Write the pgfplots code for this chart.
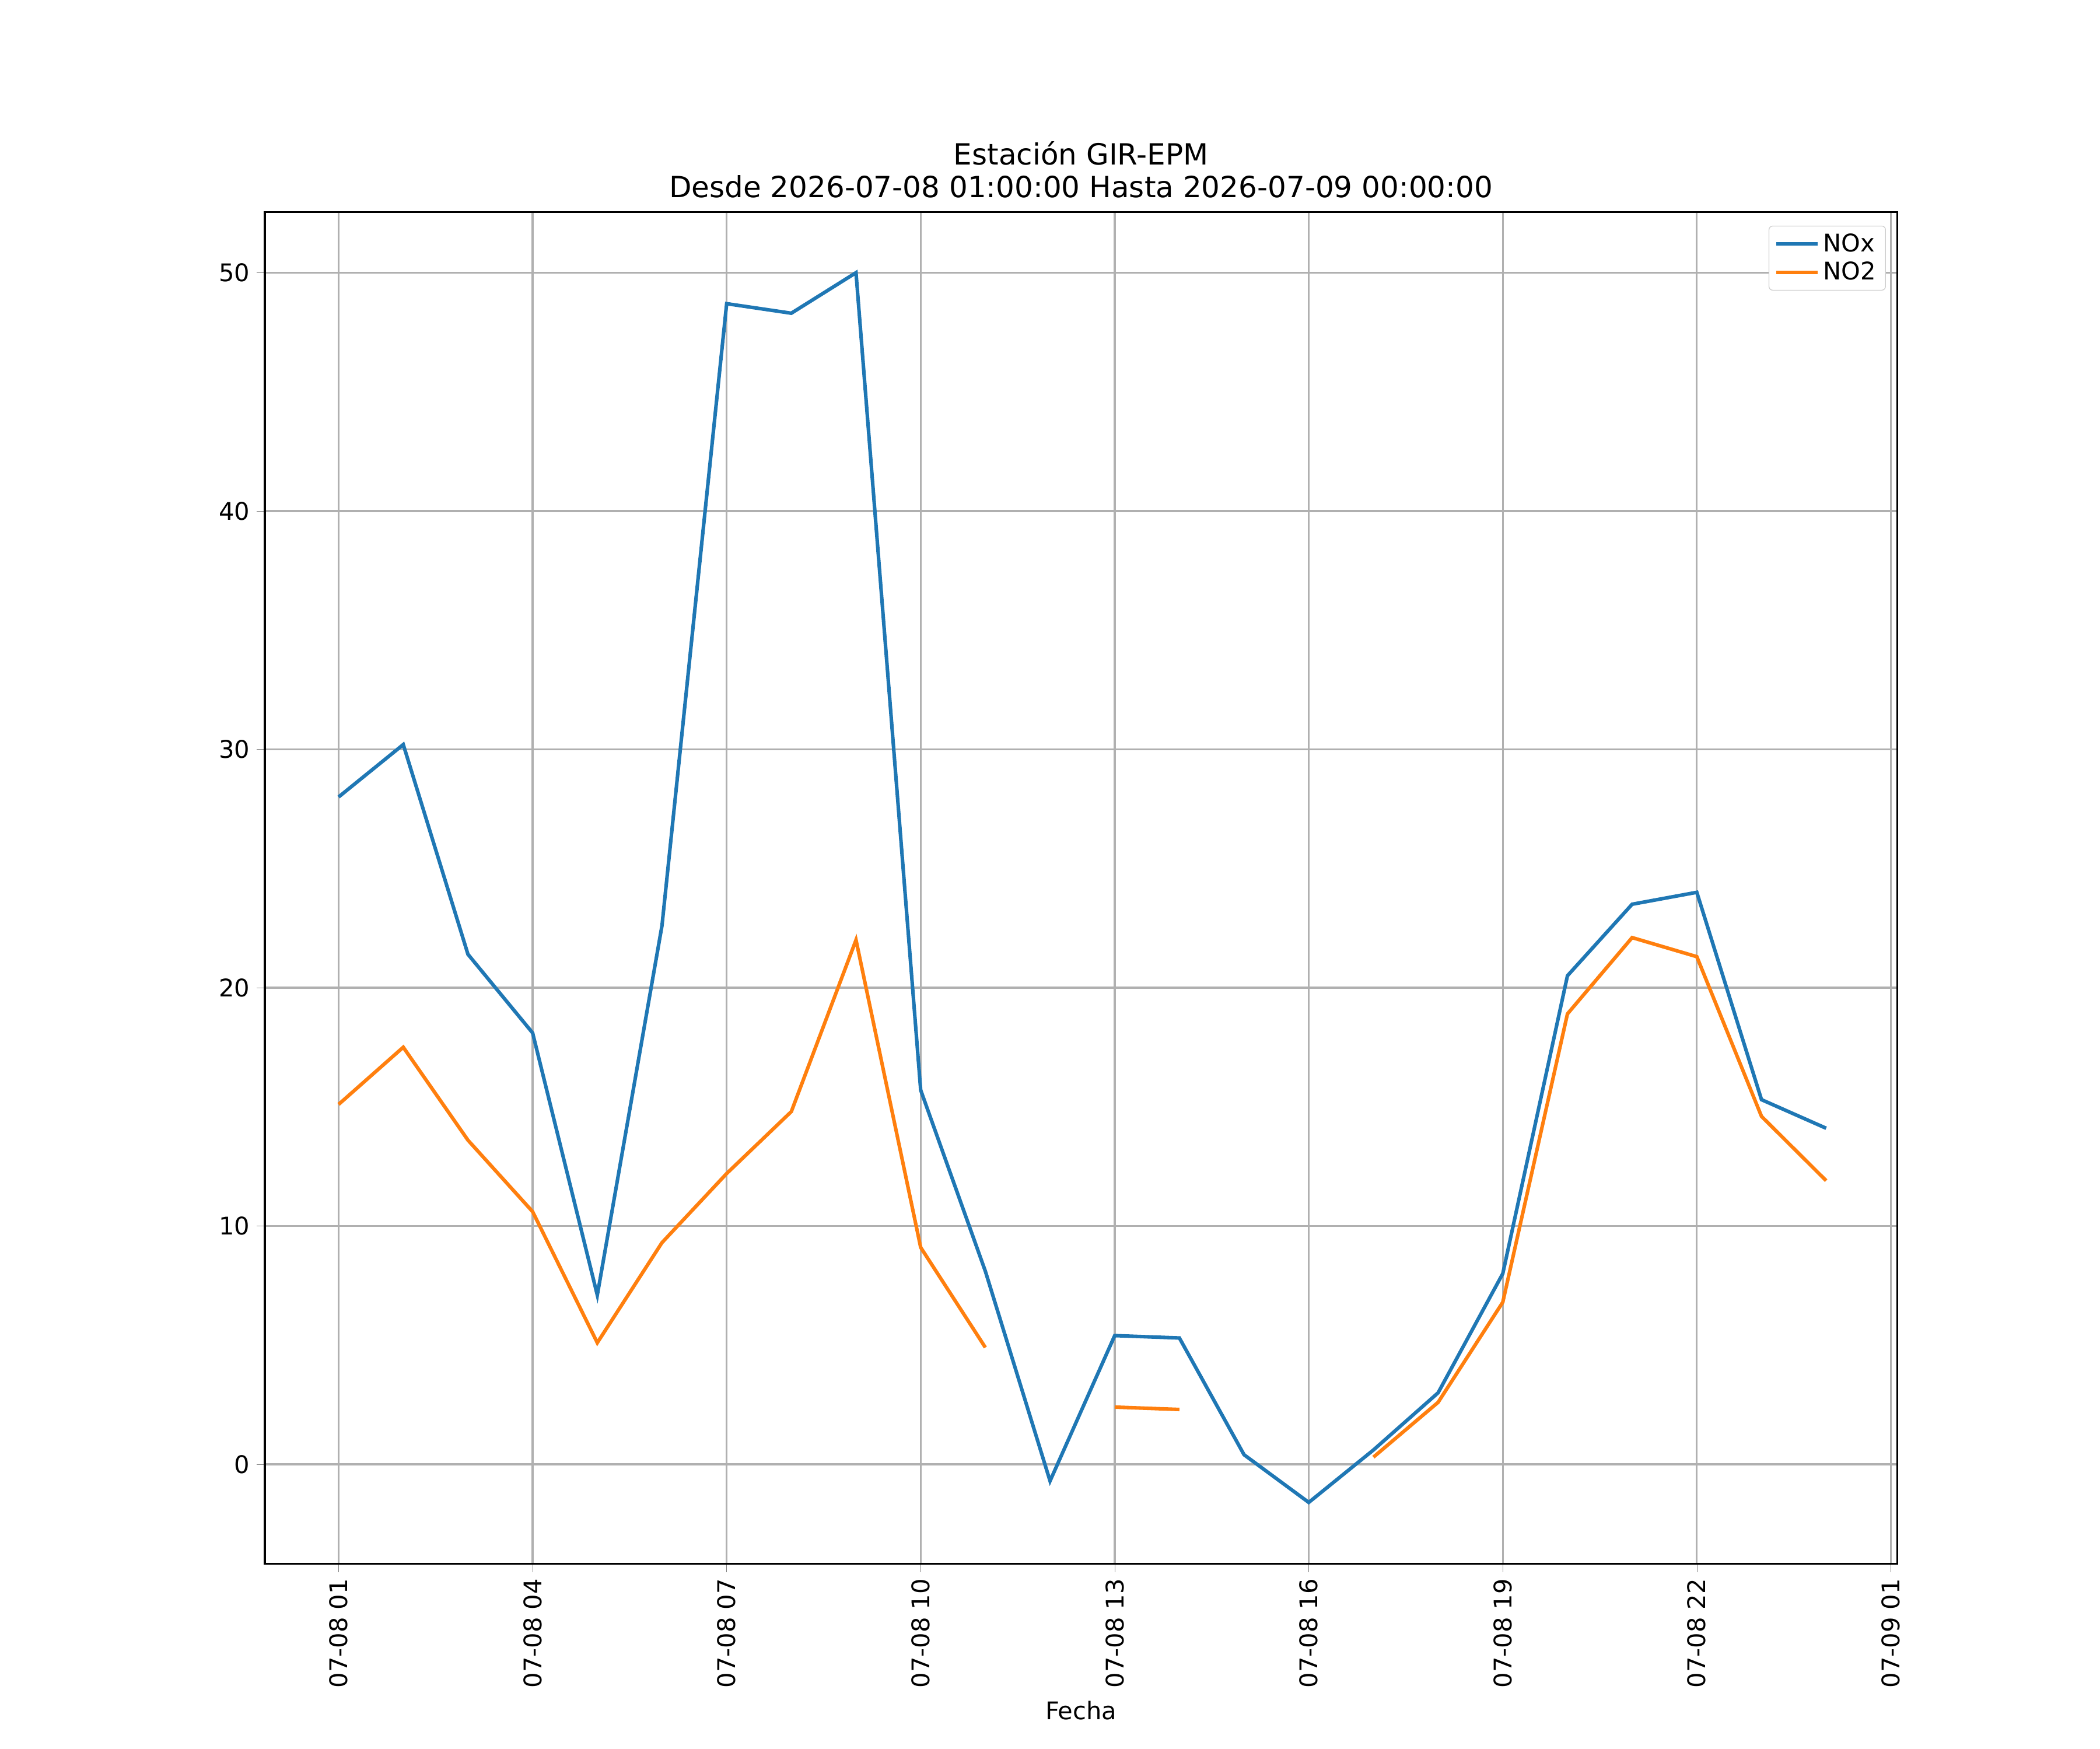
\documentclass[border=0pt]{standalone}
\usepackage{pgfplots}
\pgfplotsset{compat=1.18}
\usepackage{fontspec}
\setmainfont{DejaVu Sans}
\definecolor{c0}{HTML}{1F77B4}
\definecolor{c1}{HTML}{FF7F0E}
\begin{document}
\begin{tikzpicture}
\begin{axis}[
  scale only axis, width=12.08in, height=10.0in,
  xmin=-0.14, xmax=25.1, ymin=-4.17, ymax=52.54,
  xtick={1,4,7,10,13,16,19,22,25},
  xticklabels={07-08 01,07-08 04,07-08 07,07-08 10,07-08 13,07-08 16,07-08 19,07-08 22,07-09 01},
  xticklabel style={rotate=90,anchor=east},
  ytick={0,10,20,30,40,50},
  /pgf/number format/assume math mode=true,
  tick align=outside, tick pos=left, major tick length=4.5pt,
  grid=major, grid style={color=black!31, line width=1pt},
  axis line style={line width=1pt},
  font=\fontsize{13pt}{15pt}\selectfont,
  title={Estación GIR-EPM\\Desde 2026-07-08 01:00:00 Hasta 2026-07-09 00:00:00},
  title style={align=center, font=\fontsize{15.6pt}{17.5pt}\selectfont, yshift=-2pt},
  xlabel={Fecha},
  unbounded coords=jump,
  legend style={at={(0.993,0.99)}, anchor=north east, font=\fontsize{13pt}{16pt}\selectfont, draw=black!20, rounded corners=2pt, legend cell align=left},
  legend image post style={xscale=1.3},
]
\addplot[c0, line width=1.9pt] coordinates {(1,28) (2,30.2) (3,21.4) (4,18.1) (5,7.1) (6,22.6) (7,48.7) (8,48.3) (9,50) (10,15.7) (11,8.1) (12,-0.7) (13,5.4) (14,5.3) (15,0.4) (16,-1.6) (17,0.6) (18,3) (19,8) (20,20.5) (21,23.5) (22,24) (23,15.3) (24,14.1)};
\addlegendentry{NOx}
\addplot[c1, line width=1.9pt] coordinates {(1,15.1) (2,17.5) (3,13.6) (4,10.6) (5,5.1) (6,9.3) (7,12.2) (8,14.8) (9,22) (10,9.1) (11,4.9) (12,nan) (13,2.4) (14,2.3) (15,nan) (16,nan) (17,0.3) (18,2.6) (19,6.8) (20,18.9) (21,22.1) (22,21.3) (23,14.6) (24,11.9)};
\addlegendentry{NO2}
\end{axis}
\pgfresetboundingbox
\path ([xshift=-1.96in,yshift=-1.37in]current axis.south west) rectangle ([xshift=1.5in,yshift=1.57in]current axis.north east);
\end{tikzpicture}
\end{document}
